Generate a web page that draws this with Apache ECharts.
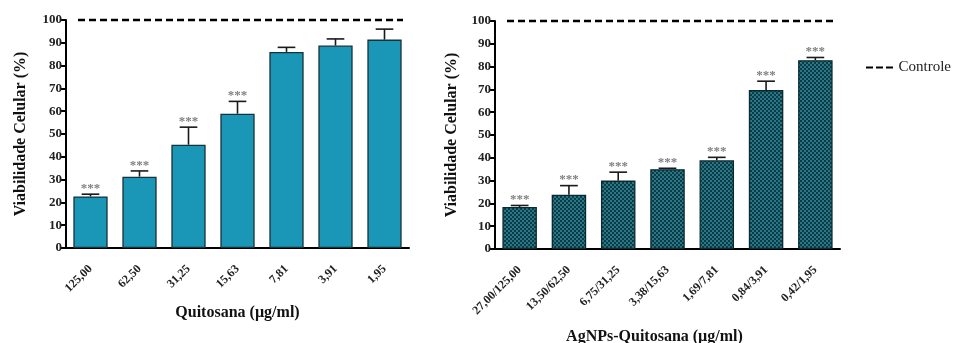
<!DOCTYPE html>
<html><head><meta charset="utf-8">
<script src="https://cdn.jsdelivr.net/npm/echarts@6/dist/echarts.min.js"></script>
<style>html,body{margin:0;padding:0;background:#fff}#c{width:958px;height:343px}</style>
</head><body><div id="c"></div>
<script>
const categoriesA = ['125,00','62,50','31,25','15,63','7,81','3,91','1,95'];
const valuesA = [22.6, 31.3, 45.3, 58.9, 86.0, 88.8, 91.4];
const upperA  = [23.6, 33.8, 53.0, 64.3, 88.0, 91.7, 96.0];
const sigA    = ['***','***','***','***','','',''];

const categoriesB = ['27,00/125,00','13,50/62,50','6,75/31,25','3,38/15,63','1,69/7,81','0,84/3,91','0,42/1,95'];
const valuesB = [18.4, 23.8, 30.0, 35.0, 38.9, 69.7, 82.8];
const upperB  = [19.1, 27.8, 33.7, 35.4, 40.2, 73.6, 84.0];
const sigB    = ['***','***','***','***','***','***','***'];

const controlValue = 100;
const yTicks = {min: 0, max: 100, interval: 10};

const FONT = 'Liberation Serif';

// checker pattern for second chart bars
const pc = document.createElement('canvas');
pc.width = 4; pc.height = 4;
const g = pc.getContext('2d');
g.fillStyle = '#2a7684'; g.fillRect(0,0,4,4);
g.fillStyle = '#0b3d48'; g.fillRect(0,0,2,2); g.fillRect(2,2,2,2);

const chart = echarts.init(document.getElementById('c'));

function errRender(sig){
  return function(params, api){
    const i = api.value(0);
    const p0 = api.coord([i, api.value(1)]);
    const p1 = api.coord([i, api.value(2)]);
    const half = api.size([1,0])[0]*0.18;
    const st = {stroke:'#1a1a1a', lineWidth:1.6};
    const ch = [
      {type:'line', shape:{x1:p0[0],y1:p0[1],x2:p1[0],y2:p1[1]}, style:st},
      {type:'line', shape:{x1:p1[0]-half,y1:p1[1],x2:p1[0]+half,y2:p1[1]}, style:st}
    ];
    const s = sig[params.dataIndex];
    if (s) ch.push({type:'text', x:p1[0], y:p1[1]+1, style:{text:s, fill:'#808080', font:'bold 13px "'+FONT+'"', align:'center', verticalAlign:'bottom'}});
    return {type:'group', children: ch};
  };
}
function ctrlRender(params, api){
  const y = api.coord([0, api.value(1)])[1];
  const cs = params.coordSys;
  return {type:'line', shape:{x1:cs.x+12, y1:y, x2:cs.x+cs.width-6, y2:y},
    style:{stroke:'#000', lineWidth:2.5, lineDash:[7,4]}};
}

function xAxis(idx, cats, name, gap, pad){
  return {gridIndex: idx, type:'category', data: cats,
    axisLine:{lineStyle:{color:'#000', width:2}},
    axisTick:{alignWithLabel:true, length:5, lineStyle:{width:2, color:'#000'}},
    axisLabel:{rotate:45, color:'#222', fontFamily:FONT, fontWeight:'bold', fontSize:12, margin:19, interval:0},
    name: name, nameLocation:'middle', nameGap: gap,
    nameTextStyle:{fontFamily:FONT, fontWeight:'bold', fontSize:16, color:'#111', padding: pad}};
}
function yAxis(idx, gap){
  return {gridIndex: idx, type:'value', min:yTicks.min, max:yTicks.max, interval:yTicks.interval,
    splitLine:{show:false},
    axisLine:{show:true, lineStyle:{color:'#000', width:2}},
    axisTick:{show:true, length:5, lineStyle:{width:2, color:'#000'}},
    axisLabel:{color:'#222', fontFamily:FONT, fontWeight:'bold', fontSize:13, margin:4},
    name:'Viabilidade Celular (%)', nameLocation:'middle', nameGap: gap, nameRotate:90,
    nameTextStyle:{fontFamily:FONT, fontWeight:'bold', fontSize:16, color:'#111'}};
}

const dashIcon = 'path://M0,0 L7,0 L7,2 L0,2 Z M10,0 L17,0 L17,2 L10,2 Z M20,0 L27,0 L27,2 L20,2 Z';

chart.setOption({
  animation:false,
  grid:[{left:66, top:20, width:343, height:228, containLabel:false, outerBoundsMode:'none'},
        {left:495, top:21, width:345, height:228, containLabel:false, outerBoundsMode:'none'}],
  xAxis:[xAxis(0, categoriesA, 'Quitosana (µg/ml)', 57, 0), xAxis(1, categoriesB, 'AgNPs-Quitosana (µg/ml)', 80, [0,26,0,0])],
  yAxis:[yAxis(0, 37), yAxis(1, 35)],
  legend:{data:[{name:'Controle', icon:dashIcon}], right:2, top:55, itemWidth:28, itemHeight:2, itemGap:6,
    textStyle:{fontFamily:FONT, fontSize:15, color:'#222'}},
  series:[
    {type:'bar', xAxisIndex:0, yAxisIndex:0, data:valuesA, barCategoryGap:'30%',
      itemStyle:{color:'#1a97b6', borderColor:'#17323a', borderWidth:1.3}},
    {type:'custom', xAxisIndex:0, yAxisIndex:0, renderItem: errRender(sigA),
      data: valuesA.map((v,i)=>[i, v, upperA[i]]), z:3},
    {type:'custom', xAxisIndex:0, yAxisIndex:0, renderItem: ctrlRender, data:[[0, controlValue]], z:4},
    {type:'bar', xAxisIndex:1, yAxisIndex:1, data:valuesB, barCategoryGap:'30%',
      itemStyle:{color:{image:pc, repeat:'repeat'}, borderColor:'#0a2a31', borderWidth:1.3}},
    {type:'custom', xAxisIndex:1, yAxisIndex:1, renderItem: errRender(sigB),
      data: valuesB.map((v,i)=>[i, v, upperB[i]]), z:3},
    {type:'custom', xAxisIndex:1, yAxisIndex:1, renderItem: ctrlRender, data:[[0, controlValue]], z:4},
    {type:'line', name:'Controle', xAxisIndex:1, yAxisIndex:1, data:[], symbol:'none',
      lineStyle:{color:'#000', width:2}, itemStyle:{color:'#000'}}
  ]
});
</script></body></html>
